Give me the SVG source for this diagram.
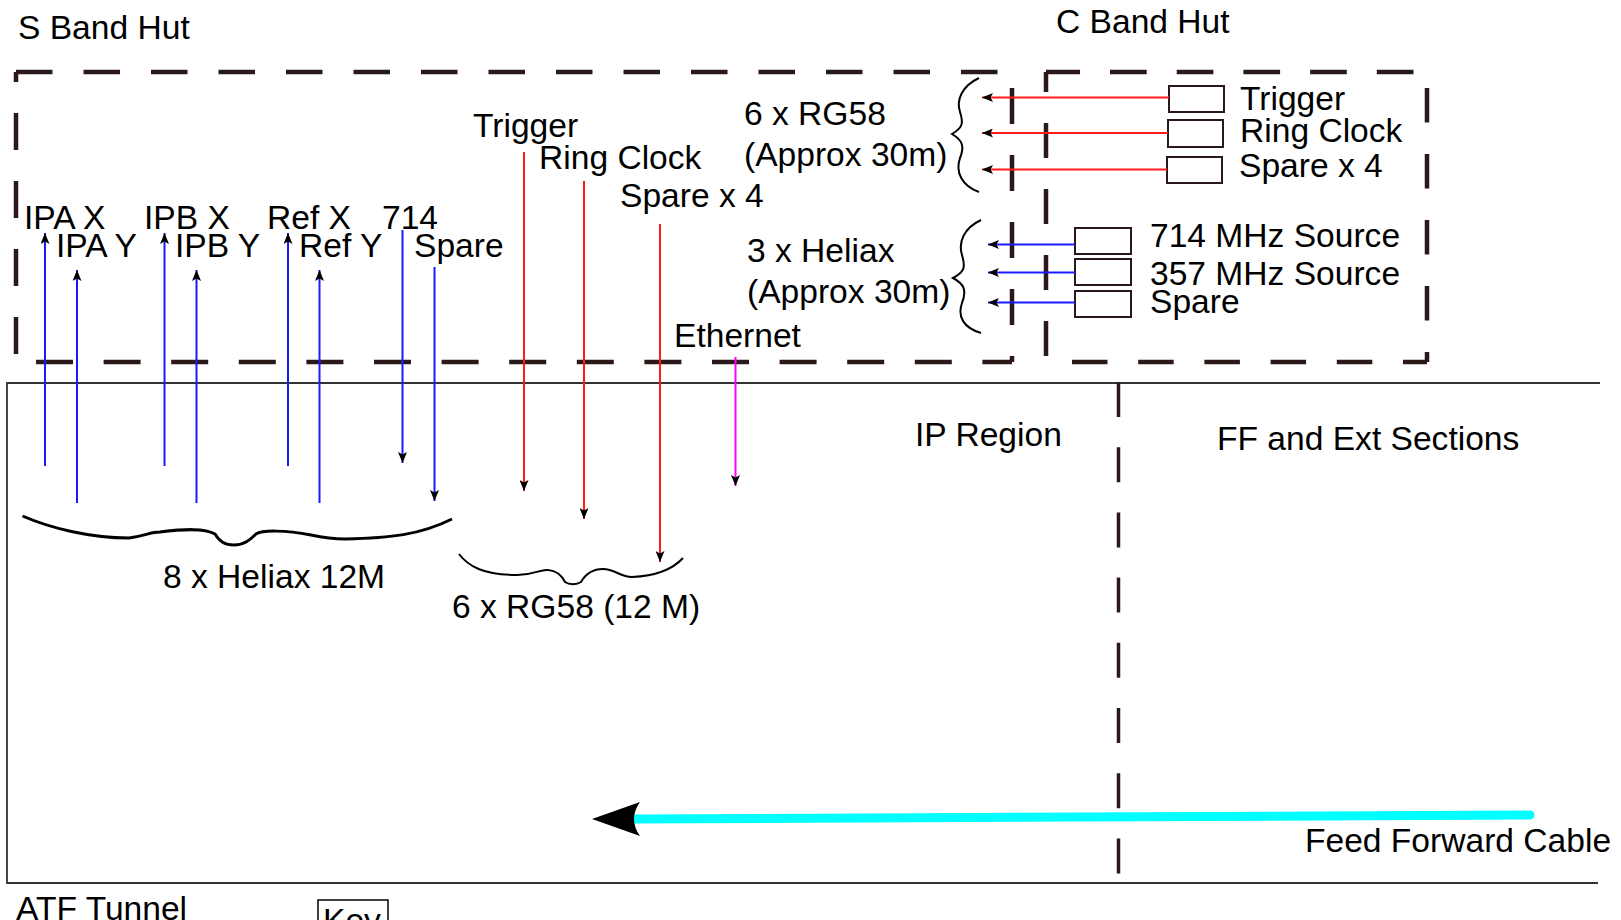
<svg xmlns="http://www.w3.org/2000/svg" width="1621" height="920" viewBox="0 0 1621 920">
<style>
text{font-family:"Liberation Sans",Arial,sans-serif;font-size:33.6px;fill:#000}
.hut{fill:none;stroke:#2b1818;stroke-width:4.5}
.blue{stroke:#1a1aff;stroke-width:2;fill:none}
.red{stroke:#ff1a1a;stroke-width:2;fill:none}
.mag{stroke:#ff00ff;stroke-width:2;fill:none}
.box{fill:#fff;stroke:#2b1818;stroke-width:2}
.brace{fill:none;stroke:#000;stroke-width:2}
.bigbrace{fill:none;stroke:#000;stroke-width:3}
</style>
<defs>
<marker id="ah" viewBox="0 0 11 9" refX="11" refY="4.5" markerWidth="11" markerHeight="9" markerUnits="userSpaceOnUse" orient="auto">
<path d="M0,0 L11,4.5 L0,9 L2.5,4.5 Z" fill="#000"/>
</marker>
</defs>
<rect width="1621" height="920" fill="#fff"/>

<g id="s-band-hut">
<line class="hut" x1="16" y1="72" x2="1012" y2="72" stroke-dasharray="36.5 31"/>
<line class="hut" x1="16" y1="72" x2="16" y2="362" stroke-dasharray="37 31" stroke-dashoffset="27"/>
<line class="hut" x1="1012" y1="72" x2="1012" y2="362" stroke-dasharray="36 31" stroke-dashoffset="51"/>
<line class="hut" x1="36" y1="362" x2="1012" y2="362" stroke-dasharray="37 30.6"/>
<text x="18" y="39">S Band Hut</text>
</g>

<g id="c-band-hut">
<line class="hut" x1="1046" y1="72" x2="1427" y2="72" stroke-dasharray="36.7 30" stroke-dashoffset="2.7"/>
<line class="hut" x1="1046" y1="72" x2="1046" y2="362" stroke-dasharray="35 31" stroke-dashoffset="15"/>
<line class="hut" x1="1427" y1="72" x2="1427" y2="362" stroke-dasharray="34.5 31.5" stroke-dashoffset="50"/>
<line class="hut" x1="1072" y1="362" x2="1427" y2="362" stroke-dasharray="35.5 30.7"/>
<text x="1056" y="33">C Band Hut</text>
</g>

<g id="atf-tunnel">
<path d="M1600,383 H7 V883 H1598" fill="none" stroke="#333" stroke-width="1.8"/>
<line x1="1118.5" y1="382" x2="1118.5" y2="880" stroke="#2b1818" stroke-width="3.5" stroke-dasharray="35 30.2"/>
<text x="16" y="920">ATF Tunnel</text>
<text x="915" y="446">IP Region</text>
<text x="1217" y="450">FF and Ext Sections</text>
</g>

<g id="key">
<rect x="318" y="900" width="70" height="40" fill="none" stroke="#000" stroke-width="1.5"/>
<text x="323" y="932">Key</text>
</g>

<g id="s-band-labels">
<text x="24" y="229">IPA X</text>
<text x="56" y="257">IPA Y</text>
<text x="144" y="229">IPB X</text>
<text x="175" y="257">IPB Y</text>
<text x="267" y="229">Ref X</text>
<text x="299" y="257">Ref Y</text>
<text x="382" y="229">714</text>
<text x="414" y="257">Spare</text>
<text x="473" y="137">Trigger</text>
<text x="539" y="169">Ring Clock</text>
<text x="620" y="207">Spare x 4</text>
<text x="744" y="125">6 x RG58</text>
<text x="744" y="166">(Approx 30m)</text>
<text x="747" y="262">3 x Heliax</text>
<text x="747" y="303">(Approx 30m)</text>
<text x="674" y="347">Ethernet</text>
</g>

<g id="c-band-sources">
<rect class="box" x="1169" y="86" width="55" height="26"/>
<rect class="box" x="1168" y="120" width="55" height="27"/>
<rect class="box" x="1167" y="157" width="55" height="26"/>
<text x="1240" y="110">Trigger</text>
<text x="1240" y="142">Ring Clock</text>
<text x="1239" y="177">Spare x 4</text>
<rect class="box" x="1075" y="228" width="56" height="26"/>
<rect class="box" x="1075" y="259" width="56" height="26"/>
<rect class="box" x="1075" y="291" width="56" height="26"/>
<text x="1150" y="247">714 MHz Source</text>
<text x="1150" y="285">357 MHz Source</text>
<text x="1150" y="313">Spare</text>
</g>

<g id="connectors">
<line class="blue" x1="45" y1="466" x2="45" y2="233" marker-end="url(#ah)"/>
<line class="blue" x1="77" y1="503" x2="77" y2="270" marker-end="url(#ah)"/>
<line class="blue" x1="164.5" y1="466" x2="164.5" y2="233" marker-end="url(#ah)"/>
<line class="blue" x1="196.5" y1="503" x2="196.5" y2="270" marker-end="url(#ah)"/>
<line class="blue" x1="288" y1="466" x2="288" y2="233" marker-end="url(#ah)"/>
<line class="blue" x1="319.5" y1="503" x2="319.5" y2="270" marker-end="url(#ah)"/>
<line class="blue" x1="402.5" y1="230" x2="402.5" y2="463" marker-end="url(#ah)"/>
<line class="blue" x1="434.5" y1="267" x2="434.5" y2="501" marker-end="url(#ah)"/>
<line class="red" x1="524" y1="152" x2="524" y2="491" marker-end="url(#ah)"/>
<line class="red" x1="584" y1="181" x2="584" y2="519" marker-end="url(#ah)"/>
<line class="red" x1="660" y1="224" x2="660" y2="562" marker-end="url(#ah)"/>
<line class="mag" x1="735.5" y1="357" x2="735.5" y2="486" marker-end="url(#ah)"/>
<line class="red" x1="1169" y1="97.5" x2="982" y2="97.5" marker-end="url(#ah)"/>
<line class="red" x1="1168" y1="133" x2="982" y2="133" marker-end="url(#ah)"/>
<line class="red" x1="1167" y1="169.5" x2="982" y2="169.5" marker-end="url(#ah)"/>
<line class="blue" x1="1075" y1="244.5" x2="988" y2="244.5" marker-end="url(#ah)"/>
<line class="blue" x1="1075" y1="272.5" x2="988" y2="272.5" marker-end="url(#ah)"/>
<line class="blue" x1="1075" y1="302.5" x2="988" y2="302.5" marker-end="url(#ah)"/>
<path class="brace" d="M979,78 C962,86 956,100 960,112 C964,124 962,128 952,134 C962,140 965,146 960,158 C955,172 962,186 979,192"/>
<path class="brace" d="M981,220 C964,228 958,242 962,255 C966,268 964,272 953,278 C964,284 967,290 962,303 C957,317 964,328 981,333"/>
<path class="bigbrace" d="M22.5,516 C50,528 90,538 129,538 C145,536 150,532 160,532 C185,529 205,528 215,534 C220,542 225,545 234,545 C244,545 250,540 256,534 C262,530 285,530 311,535 C325,538 335,539 345,539 C390,538 420,535 452,519"/>
<text x="163" y="588">8 x Heliax 12M</text>
<path class="brace" stroke-width="2.5" d="M459,554 C468,566 483,575 517,575 C535,575 540,569 548,570 C558,571 562,576 565,582 C569,585 577,585 581,582 C585,575 592,569 603,569 C615,569 620,577 632,577 C655,576 672,570 683,558"/>
<text x="452" y="618">6 x RG58 (12 M)</text>
<line x1="630" y1="819" x2="1530" y2="815" stroke="#00ffff" stroke-width="9" stroke-linecap="round"/>
<path d="M592,819 L640,802 Q628,819 640,836 Z" fill="#000"/>
<text x="1305" y="852">Feed Forward Cable</text>
</g>
</svg>
